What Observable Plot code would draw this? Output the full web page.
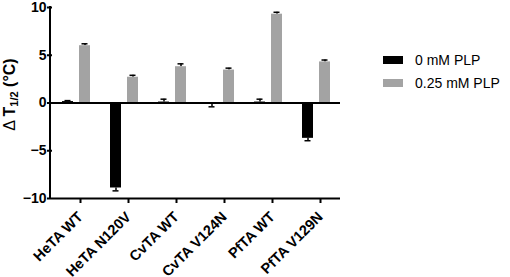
<!DOCTYPE html>
<html><head><meta charset="utf-8">
<script src="https://cdn.jsdelivr.net/npm/d3@7"></script>
<script src="https://cdn.jsdelivr.net/npm/@observablehq/plot@0.6"></script>
<style>
body{margin:0;background:#fff;font-family:"Liberation Sans",Arial,sans-serif}
#wrap{position:relative;width:510px;height:277px}
.legend{position:absolute;left:383px;top:48px;font-size:14px;color:#000}
.row{display:flex;align-items:center;height:23px}
.sw{width:20px;height:8px;margin-right:12px}
svg g[aria-label="fx-axis tick"] path, svg g[aria-label="y-axis tick"] path{stroke-width:2}
svg g[aria-label="fx-axis tick label"]{font-size:14.5px}
</style></head><body><div id="wrap"></div>
<script>
const categories = ["HeTA WT","HeTA N120V","CvTA WT","CvTA V124N","PfTA WT","PfTA V129N"];
const series = ["0 mM PLP","0.25 mM PLP"];
const values0 = [0.15,-8.9,0.1,-0.15,0.1,-3.7];
const errors0 = [0.1,0.3,0.3,0.25,0.3,0.25];
const values025 = [6.0,2.7,3.8,3.45,9.3,4.3];
const errors025 = [0.2,0.2,0.3,0.2,0.2,0.2];
const colors = ["#000000","#a3a3a3"];
const yTicks = [-10,-5,0,5,10];

const data = [];
categories.forEach((c,i)=>{
  [[values0,errors0],[values025,errors025]].forEach(([v,e],j)=>{
    const val=v[i], err=e[i];
    data.push({category:c, series:series[j], value:val, end: val + (val<0?-err:err)});
  });
});

const plot = Plot.plot({
  width:510, height:277,
  marginLeft:50, marginRight:169, marginTop:7, marginBottom:79,
  style:{fontSize:"14px", fontWeight:"bold", fontFamily:"Liberation Sans, Arial, sans-serif", background:"#fff", color:"#000", overflow:"visible"},
  fx:{domain:categories, padding:0, label:null},
  x:{domain:series, paddingInner:0.34, paddingOuter:0.57, axis:null},
  y:{domain:[-10,10], label:null},
  color:{domain:series, range:colors},
  marks:[
    Plot.ruleX(data,{fx:"category", x:"series", y1:"value", y2:"end", stroke:"#000", strokeWidth:1.5}),
    Plot.tickY(data,{fx:"category", x:"series", y:"end", stroke:"#000", strokeWidth:1.5, insetLeft:2.5, insetRight:2.5}),
    Plot.barY(data,{fx:"category", x:"series", y:"value", fill:"series"}),
    Plot.ruleY([0],{stroke:"#000", strokeWidth:2}),
    Plot.ruleY([-10],{stroke:"#000", strokeWidth:2}),
    Plot.axisY({ticks:yTicks, tickSize:5, tickPadding:1, label:null}),
    Plot.axisFx({anchor:"bottom", tickRotate:-45, tickSize:5, tickPadding:11, dx:4, label:null})
  ]
});
document.getElementById("wrap").appendChild(plot);

// y axis line and label
const ys = plot.scale("y");
const svg = d3.select(plot);
svg.append("line")
  .attr("x1",50).attr("x2",50)
  .attr("y1",ys.apply(10)-1).attr("y2",ys.apply(-10)+1)
  .attr("stroke","#000").attr("stroke-width",2);
const cy = (ys.apply(10)+ys.apply(-10))/2 - 8;
const lab = svg.append("text")
  .attr("transform",`translate(15,${cy}) rotate(-90)`)
  .attr("text-anchor","middle")
  .attr("font-size","16px").attr("font-weight","bold").attr("fill","#000");
lab.append("tspan").attr("font-weight","normal").text("Δ ");
lab.append("tspan").text("T");
lab.append("tspan").attr("font-size","11px").attr("dy","3").text("1/2");
lab.append("tspan").attr("dy","-3").text(" (°C)");

// legend
const leg = d3.select("#wrap").append("div").attr("class","legend");
series.forEach((s,i)=>{
  const r = leg.append("div").attr("class","row");
  r.append("div").attr("class","sw").style("background",colors[i]);
  r.append("span").text(s);
});
</script></body></html>
